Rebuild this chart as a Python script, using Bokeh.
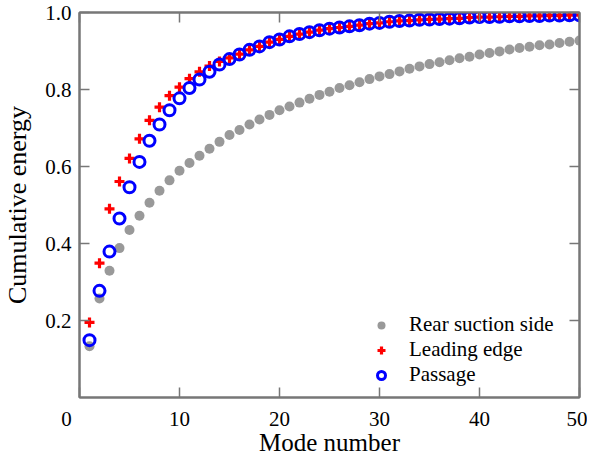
from bokeh.plotting import figure
from bokeh.models import (Range1d, FixedTicker, LinearAxis, Legend, LegendItem)
from bokeh.embed import file_html
from bokeh.resources import INLINE

modes = list(range(1, 51))
rear_suction = [0.133, 0.257, 0.329, 0.388, 0.435, 0.472, 0.506, 0.537, 0.564, 0.589,
                0.609, 0.628, 0.646, 0.664, 0.682, 0.695, 0.709, 0.722, 0.734, 0.746,
                0.756, 0.766, 0.776, 0.786, 0.794, 0.804, 0.811, 0.819, 0.827, 0.834,
                0.840, 0.847, 0.854, 0.860, 0.866, 0.871, 0.876, 0.881, 0.885, 0.891,
                0.895, 0.899, 0.904, 0.908, 0.911, 0.915, 0.917, 0.921, 0.924, 0.927]
leading_edge = [0.195, 0.349, 0.490, 0.561, 0.621, 0.672, 0.720, 0.754, 0.784, 0.806,
                0.828, 0.846, 0.861, 0.873, 0.882, 0.892, 0.903, 0.912, 0.923, 0.930,
                0.938, 0.944, 0.949, 0.954, 0.958, 0.961, 0.964, 0.967, 0.971, 0.973,
                0.976, 0.978, 0.979, 0.981, 0.982, 0.983, 0.984, 0.985, 0.987, 0.988,
                0.988, 0.989, 0.990, 0.990, 0.991, 0.991, 0.992, 0.992, 0.993, 0.993]
passage = [0.149, 0.277, 0.379, 0.465, 0.546, 0.612, 0.667, 0.709, 0.746, 0.777,
           0.804, 0.826, 0.846, 0.865, 0.879, 0.891, 0.903, 0.912, 0.923, 0.930,
           0.938, 0.944, 0.949, 0.954, 0.958, 0.961, 0.964, 0.967, 0.971, 0.973,
           0.976, 0.978, 0.979, 0.981, 0.982, 0.983, 0.984, 0.985, 0.987, 0.988,
           0.988, 0.989, 0.990, 0.990, 0.991, 0.991, 0.992, 0.992, 0.993, 0.993]
series_names = ["Rear suction side", "Leading edge", "Passage"]
x_ticks = [0, 10, 20, 30, 40, 50]
x_tick_labels = ["0", "10", "20", "30", "40", "50"]
y_ticks = [0.2, 0.4, 0.6, 0.8, 1.0]
y_tick_labels = ["0.2", "0.4", "0.6", "0.8", "1.0"]

FONT = "Liberation Serif"
AX = "#777777"

p = figure(frame_width=500, frame_height=385, output_backend="svg", toolbar_location=None,
           x_range=Range1d(0, 50), y_range=Range1d(0, 1.0),
           min_border_left=75, min_border_right=8, min_border_top=12, min_border_bottom=40,
           x_axis_label="Mode number", y_axis_label="Cumulative energy")
p.grid.visible = False
p.outline_line_color = AX
p.outline_line_width = 2
p.background_fill_color = "white"
p.border_fill_color = "white"

def style(ax, labels=True):
    ax.axis_line_color = AX
    ax.axis_line_width = 2
    ax.major_tick_in = 10
    ax.major_tick_out = 0
    ax.major_tick_line_color = AX
    ax.major_tick_line_width = 1.5
    ax.minor_tick_line_color = None
    ax.major_label_text_font = FONT
    ax.major_label_text_font_size = "21px"
    ax.major_label_text_color = "black"
    ax.major_label_standoff = 8
    ax.axis_label_text_font = FONT
    ax.axis_label_text_font_size = "25px"
    ax.axis_label_text_font_style = "normal"
    ax.axis_label_text_color = "black"
    if not labels:
        ax.major_label_text_font_size = "0px"
        ax.major_label_text_color = None

xa = p.xaxis[0]
ya = p.yaxis[0]
style(xa)
style(ya)
xa.ticker = FixedTicker(ticks=x_ticks)
ya.ticker = FixedTicker(ticks=y_ticks)
ya.major_label_overrides = {t: l for t, l in zip(y_ticks, y_tick_labels)}
xlab = {t: l for t, l in zip(x_ticks, x_tick_labels)}
xlab[0] = xlab[0] + "\u00a0" * 5
xa.major_label_overrides = xlab
xa.major_label_standoff = 9
xa.axis_label_standoff = -5
ya.axis_label_standoff = 10
ya.axis_label_text_font_size = "26px"

top = LinearAxis(ticker=FixedTicker(ticks=x_ticks))
right = LinearAxis(ticker=FixedTicker(ticks=y_ticks))
style(top, labels=False)
style(right, labels=False)
top.major_label_standoff = 0
right.major_label_standoff = 0
p.add_layout(top, "above")
p.add_layout(right, "right")

r1 = p.scatter(modes, rear_suction, marker="circle", size=10, fill_color="#999999",
               line_color="#999999", line_width=0)
r2 = p.scatter(modes, leading_edge, marker="cross", size=10, line_color="#ff0000",
               line_width=3.2)
r3 = p.scatter(modes, passage, marker="circle", size=11, fill_color=None,
               line_color="#0000ff", line_width=3)

legend = Legend(items=[LegendItem(label=series_names[0], renderers=[r1]),
                       LegendItem(label=series_names[1], renderers=[r2]),
                       LegendItem(label=series_names[2], renderers=[r3])],
                location=(292, 10), orientation="vertical")
legend.background_fill_alpha = 0
legend.border_line_color = None
legend.label_text_font = FONT
legend.label_text_font_size = "21px"
legend.label_text_color = "black"
legend.glyph_width = 20
legend.glyph_height = 20
legend.label_standoff = 18
legend.padding = 0
legend.margin = 0
legend.spacing = 0
legend.label_height = 20
p.add_layout(legend, "center")

open("out.html", "w").write(file_html(p, INLINE))
